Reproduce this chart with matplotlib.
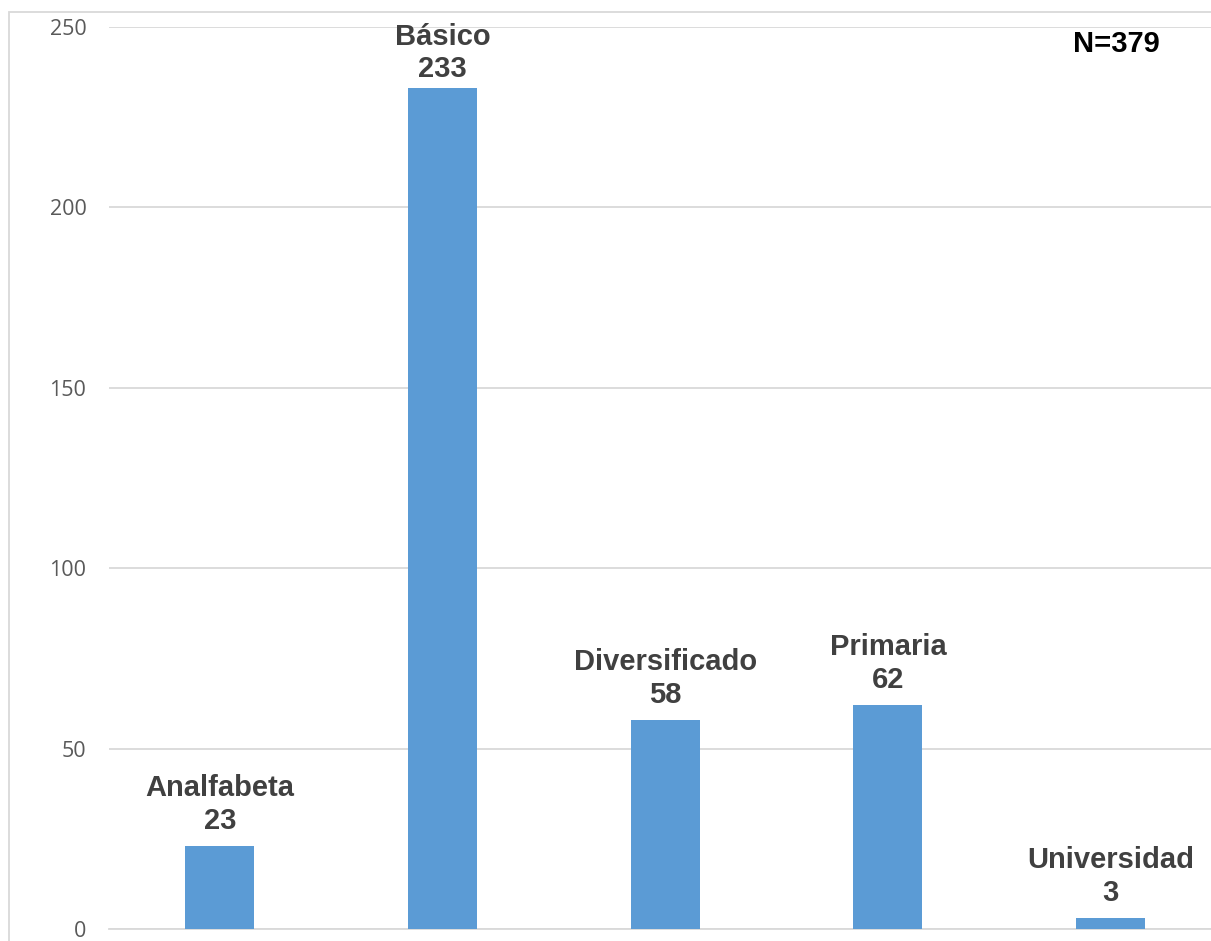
import matplotlib
matplotlib.use("Agg")
import matplotlib.pyplot as plt
from matplotlib.patches import Rectangle

categories = ["Analfabeta", "Básico", "Diversificado", "Primaria", "Universidad"]
values = [23, 233, 58, 62, 3]
yticks = [0, 50, 100, 150, 200, 250]
total_label = "N=379"

W, H = 1211, 941
fig = plt.figure(figsize=(W / 100, H / 100), dpi=100)

# outer chart frame (cropped at right/bottom)
fig.patches.append(Rectangle((8.5 / W, -0.1), 1.2, (H - 12.5) / H + 0.1,
                             transform=fig.transFigure, fill=False,
                             edgecolor="#d9d9d9", linewidth=1.3))

left, right = 108.6, 1222.0
y0, y1 = 929.0, 27.0
ax = fig.add_axes([left / W, (H - y0) / H, (right - left) / W, (y0 - y1) / H])

x = list(range(len(categories)))
ax.bar(x, values, width=0.31, color="#5b9bd5", zorder=3)
ax.set_xlim(-0.5, len(categories) - 0.5)
ax.set_ylim(0, 250)
ax.set_yticks(yticks)
ax.set_yticklabels([str(t) for t in yticks], fontsize=15.5, color="#595959",
                   family="Open Sans")
ax.set_xticks([])
ax.tick_params(axis="y", length=0, pad=16)
ax.grid(axis="y", color="#d9d9d9", linewidth=1.3, zorder=0)
for s in ax.spines.values():
    s.set_visible(False)
ax.spines["bottom"].set_visible(True)
ax.spines["bottom"].set_color("#d9d9d9")
ax.spines["bottom"].set_linewidth(1.3)

vmax = max(values)
for xi, (c, v) in zip(x, zip(categories, values)):
    off = 3.5 if v == vmax else 8
    ax.annotate(f"{c}\n{v}", (xi, v), xytext=(0, off), textcoords="offset points",
                ha="center", va="bottom", fontsize=21, fontweight="bold",
                color="#404040", family="Liberation Sans", linespacing=1.22)

fig.text(1116 / W, 1 - 44 / H, total_label, ha="center", va="center",
         fontsize=21, fontweight="bold", color="black", family="Liberation Sans")

fig.savefig("out.png", dpi=100)
